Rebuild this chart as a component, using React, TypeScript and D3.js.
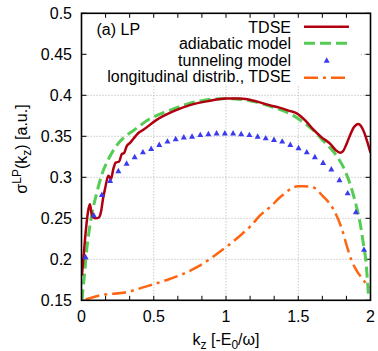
import React from "react";
import * as d3 from "d3";

// TDSE
const tdseK = [0.003, 0.015, 0.03, 0.045, 0.058, 0.07, 0.08, 0.1, 0.12, 0.135, 0.15, 0.163, 0.186, 0.204, 0.22, 0.237, 0.26, 0.278, 0.296, 0.313, 0.336, 0.359, 0.393, 0.428, 0.52, 0.63, 0.75, 0.88, 1.0, 1.1, 1.2, 1.3, 1.37, 1.44, 1.49, 1.55, 1.6, 1.66, 1.72, 1.76, 1.789, 1.81, 1.835, 1.86, 1.885, 1.916, 1.94, 1.96, 1.98, 2.0];
const tdseV = [0.18, 0.205, 0.235, 0.258, 0.267, 0.256, 0.251, 0.25, 0.251, 0.258, 0.275, 0.286, 0.302, 0.298, 0.31, 0.318, 0.319, 0.328, 0.33, 0.338, 0.342, 0.347, 0.354, 0.358, 0.37, 0.38, 0.388, 0.393, 0.396, 0.396, 0.393, 0.388, 0.385, 0.381, 0.378, 0.369, 0.359, 0.349, 0.341, 0.333, 0.33, 0.332, 0.341, 0.352, 0.361, 0.365, 0.361, 0.353, 0.342, 0.33];

// adiabatic model
const adiaK = [0.003, 0.01, 0.02, 0.035, 0.054, 0.075, 0.1, 0.14, 0.186, 0.232, 0.29, 0.36, 0.47, 0.586, 0.725, 0.85, 1.0, 1.1, 1.2, 1.3, 1.37, 1.45, 1.52, 1.6, 1.67, 1.72, 1.766, 1.824, 1.858, 1.893, 1.927, 1.95, 1.969, 1.98, 1.987];
const adiaV = [0.15, 0.163, 0.18, 0.21, 0.236, 0.258, 0.277, 0.303, 0.322, 0.336, 0.348, 0.357, 0.371, 0.38, 0.389, 0.394, 0.396, 0.395, 0.392, 0.387, 0.383, 0.377, 0.369, 0.358, 0.345, 0.336, 0.326, 0.308, 0.292, 0.271, 0.245, 0.22, 0.196, 0.171, 0.152];

// tunneling model
const tunK = [0.028, 0.085, 0.141, 0.198, 0.255, 0.312, 0.368, 0.425, 0.482, 0.538, 0.595, 0.652, 0.708, 0.765, 0.822, 0.878, 0.935, 0.992, 1.049, 1.105, 1.162, 1.219, 1.275, 1.332, 1.389, 1.445, 1.502, 1.559, 1.615, 1.672, 1.729, 1.785, 1.842, 1.899, 1.955];
const tunV = [0.203, 0.254, 0.279, 0.296, 0.308, 0.317, 0.325, 0.331, 0.335, 0.34, 0.344, 0.347, 0.349, 0.35, 0.352, 0.353, 0.354, 0.354, 0.354, 0.353, 0.352, 0.35, 0.348, 0.346, 0.344, 0.34, 0.336, 0.331, 0.325, 0.318, 0.31, 0.297, 0.281, 0.258, 0.212];

// longitudinal distribution, TDSE
const longK = [0.03, 0.047, 0.128, 0.313, 0.45, 0.61, 0.7, 0.805, 0.886, 0.955, 1.024, 1.105, 1.174, 1.232, 1.313, 1.37, 1.405, 1.44, 1.497, 1.53, 1.6, 1.67, 1.74, 1.8, 1.84, 1.87, 1.905, 1.95, 1.99];
const longV = [0.151, 0.152, 0.156, 0.16, 0.167, 0.176, 0.182, 0.191, 0.2, 0.209, 0.218, 0.23, 0.241, 0.253, 0.265, 0.275, 0.28, 0.285, 0.289, 0.289, 0.288, 0.277, 0.262, 0.238, 0.214, 0.198, 0.186, 0.175, 0.165];

const xTickLabels = [0, 0.5, 1, 1.5, 2];
const xMinorTicks = [0, 1 / 6, 2 / 6, 3 / 6, 4 / 6, 5 / 6, 1, 7 / 6, 8 / 6, 9 / 6, 10 / 6, 11 / 6, 2];
const yTickLabels = [0.15, 0.2, 0.25, 0.3, 0.35, 0.4, 0.45, 0.5];

const legendLabels = ["TDSE", "adiabatic model", "tunneling model", "longitudinal distrib., TDSE"];

const RED = "#b00010";
const GREEN = "#55cc55";
const BLUE = "#3a3af0";
const ORANGE = "#ff6410";
const FONT = "'Liberation Sans', Arial, sans-serif";

export default function App() {
  const L = 81.5, R = 370.5, T = 13.3, B = 300.3;
  const x = d3.scaleLinear().domain([0, 2]).range([L, R]);
  const y = d3.scaleLinear().domain([0.15, 0.5]).range([B, T]);
  const line = d3
    .line<[number, number]>()
    .x((d) => x(d[0]))
    .y((d) => y(d[1]))
    .curve(d3.curveMonotoneX);
  const zip = (a: number[], b: number[]) => a.map((k, i) => [k, b[i]] as [number, number]);

  const tri = (cx: number, cy: number, s = 3) =>
    `M${cx},${cy - s}L${cx + s},${cy + s * 0.8}L${cx - s},${cy + s * 0.8}Z`;

  const legendY = [26.7, 43.3, 60.3, 77.7];
  const textY = [32.5, 49, 65.5, 82];
  const FS = 16;
  const SFS = 12;

  return (
    <svg
      width={378}
      height={351}
      style={{ position: "absolute", left: 0, top: 0, fontFamily: FONT }}
    >
      <defs>
        <clipPath id="plot">
          <rect x={L} y={T} width={R - L} height={B - T} />
        </clipPath>
      </defs>
      <rect x={0} y={0} width={378} height={351} fill="white" />
      {/* grid */}
      {xTickLabels.slice(1, -1).map((v) => (
        <line key={"gx" + v} x1={x(v)} x2={x(v)} y1={B} y2={86} stroke="#b0b0b0" strokeWidth={1} strokeDasharray="1,2" />
      ))}
      {yTickLabels.slice(1, -1).map((v) => (
        <line key={"gy" + v} x1={v > 0.42 ? 361 : L} x2={R} y1={y(v)} y2={y(v)} stroke="#b0b0b0" strokeWidth={1} strokeDasharray="1,2" />
      ))}
      {/* ticks */}
      {xMinorTicks.map((v, i) => (
        <g key={"xt" + i}>
          <line x1={x(v)} x2={x(v)} y1={B} y2={B - 4.5} stroke="black" strokeWidth={1} />
          <line x1={x(v)} x2={x(v)} y1={T} y2={T + 4.5} stroke="black" strokeWidth={1} />
        </g>
      ))}
      {yTickLabels.map((v) => (
        <g key={"yt" + v}>
          <line x1={L} x2={L + 5} y1={y(v)} y2={y(v)} stroke="black" strokeWidth={1} />
          <line x1={R} x2={R - 5} y1={y(v)} y2={y(v)} stroke="black" strokeWidth={1} />
        </g>
      ))}
      {/* series */}
      <g clipPath="url(#plot)">
        <path d={line(zip(longK, longV)) || ""} fill="none" stroke={ORANGE} strokeWidth={2.5} strokeDasharray="14,5,3,5" />
        <path d={line(zip(adiaK, adiaV)) || ""} fill="none" stroke={GREEN} strokeWidth={3} strokeDasharray="11,5" />
        <path d={line(zip(tdseK, tdseV)) || ""} fill="none" stroke={RED} strokeWidth={2.5} strokeLinejoin="round" />
        {tunK.map((k, i) => (
          <path key={"tr" + i} d={tri(x(k), y(tunV[i]))} fill={BLUE} />
        ))}
      </g>
      {/* frame */}
      <rect x={L} y={T} width={R - L} height={B - T} fill="none" stroke="black" strokeWidth={1.6} />
      {/* tick labels */}
      {yTickLabels.map((v) => (
        <text key={"yl" + v} x={72} y={y(v) + 5.5} textAnchor="end" fontSize={FS}>
          {String(v)}
        </text>
      ))}
      {xTickLabels.map((v) => (
        <text key={"xl" + v} x={x(v)} y={322} textAnchor="middle" fontSize={FS}>
          {String(v)}
        </text>
      ))}
      {/* axis titles */}
      <text x={226} y={345} textAnchor="middle" fontSize={FS}>
        k<tspan fontSize={SFS} dy={4}>z</tspan>
        <tspan dy={-4}> [-E</tspan>
        <tspan fontSize={SFS} dy={4}>0</tspan>
        <tspan dy={-4}>/ω]</tspan>
      </text>
      <text transform="translate(27,149) rotate(-90)" textAnchor="middle" fontSize={FS}>
        σ<tspan fontSize={SFS} dy={-6}>LP</tspan>
        <tspan dy={6}>(k</tspan>
        <tspan fontSize={SFS} dy={4}>z</tspan>
        <tspan dy={-4}>) [a.u.]</tspan>
      </text>
      {/* panel label */}
      <text x={96.5} y={35} fontSize={FS}>(a) LP</text>
      {/* legend */}
      {legendLabels.map((s, i) => (
        <text key={"lg" + i} x={291} y={textY[i]} textAnchor="end" fontSize={FS}>
          {s}
        </text>
      ))}
      <line x1={304} x2={349} y1={legendY[0]} y2={legendY[0]} stroke={RED} strokeWidth={2.5} />
      <line x1={304} x2={349} y1={legendY[1]} y2={legendY[1]} stroke={GREEN} strokeWidth={3} strokeDasharray="11,5" />
      <path d={tri(326.7, legendY[2])} fill={BLUE} />
      <line x1={304} x2={349} y1={legendY[3]} y2={legendY[3]} stroke={ORANGE} strokeWidth={2.5} strokeDasharray="14,5,3,5" />
    </svg>
  );
}
